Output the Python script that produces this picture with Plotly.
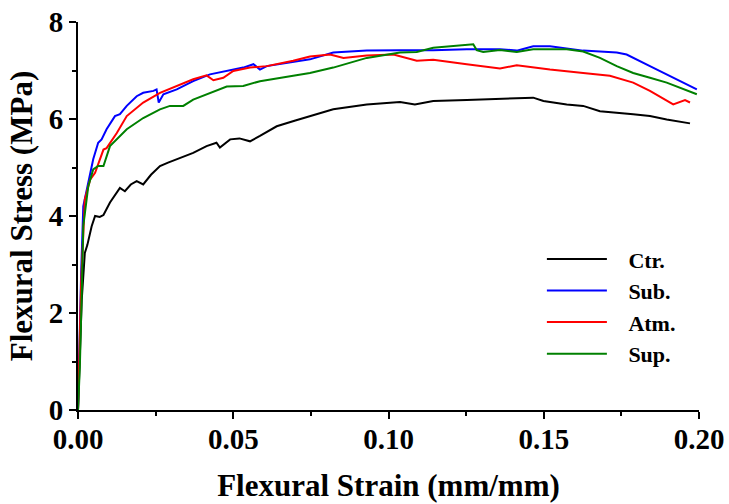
import plotly.graph_objects as go

# ---- data ----
ctr_strain = [0, 0.0006, 0.0012, 0.0022, 0.0030, 0.0044, 0.0055, 0.0070, 0.0082, 0.0103, 0.0120, 0.0135,
              0.0151, 0.0170, 0.0189, 0.0210, 0.0235, 0.0264, 0.0290, 0.0318, 0.0371, 0.0414, 0.0446, 0.0457,
              0.0490, 0.0520, 0.0554, 0.0586, 0.0640, 0.0700, 0.0747, 0.0822, 0.0930, 0.1037, 0.1085, 0.1144,
              0.1252, 0.1359, 0.1466, 0.1499, 0.1574, 0.1627, 0.1681, 0.1788, 0.1842, 0.1896, 0.1971]
ctr_stress = [0, 1.2, 2.27, 3.24, 3.4, 3.79, 4.0, 3.98, 4.02, 4.28, 4.45, 4.58,
              4.51, 4.65, 4.72, 4.65, 4.85, 5.03, 5.10, 5.17, 5.30, 5.44, 5.51, 5.41,
              5.58, 5.60, 5.54, 5.65, 5.85, 5.97, 6.06, 6.20, 6.30, 6.35, 6.30, 6.37,
              6.39, 6.42, 6.44, 6.37, 6.30, 6.27, 6.16, 6.10, 6.06, 5.99, 5.91]

sub_strain = [0, 0.0005, 0.0010, 0.0017, 0.0039, 0.0049, 0.0065, 0.0076, 0.0092, 0.0119, 0.0135, 0.0157,
              0.0189, 0.0210, 0.0243, 0.0253, 0.0260, 0.0275, 0.0318, 0.0371, 0.0425, 0.0479, 0.0532,
              0.0565, 0.0586, 0.0608, 0.0672, 0.0747, 0.0822, 0.0930, 0.1037, 0.1144, 0.1252, 0.1359,
              0.1413, 0.1466, 0.1520, 0.1574, 0.1627, 0.1735, 0.1767, 0.1842, 0.1896, 0.1993]
sub_stress = [0, 1.5, 2.8, 4.20, 4.89, 5.17, 5.51, 5.58, 5.79, 6.06, 6.10, 6.27,
              6.47, 6.54, 6.58, 6.61, 6.34, 6.51, 6.61, 6.78, 6.92, 6.99, 7.06,
              7.13, 7.02, 7.09, 7.16, 7.23, 7.37, 7.41, 7.42, 7.42, 7.44, 7.44,
              7.41, 7.50, 7.50, 7.45, 7.41, 7.37, 7.33, 7.09, 6.92, 6.61]

atm_strain = [0, 0.0005, 0.0010, 0.0022, 0.0039, 0.0055, 0.0082, 0.0092, 0.0103, 0.0125, 0.0157, 0.0210,
              0.0264, 0.0318, 0.0371, 0.0414, 0.0436, 0.0468, 0.0500, 0.0554, 0.0608, 0.0693, 0.0747,
              0.0812, 0.0855, 0.0930, 0.1016, 0.1091, 0.1144, 0.1252, 0.1359, 0.1413, 0.1520, 0.1627,
              0.1713, 0.1788, 0.1842, 0.1917, 0.1955, 0.1971]
atm_stress = [0, 1.4, 2.6, 4.34, 4.75, 4.89, 5.37, 5.40, 5.51, 5.71, 6.06, 6.34,
              6.54, 6.68, 6.82, 6.90, 6.80, 6.85, 6.99, 7.06, 7.09, 7.20, 7.29,
              7.33, 7.26, 7.31, 7.33, 7.20, 7.22, 7.13, 7.04, 7.11, 7.02, 6.95,
              6.89, 6.75, 6.58, 6.30, 6.39, 6.34]

sup_strain = [0, 0.0006, 0.0012, 0.0017, 0.0033, 0.0049, 0.0065, 0.0082, 0.0103, 0.0157, 0.0210, 0.0264,
              0.0296, 0.0339, 0.0371, 0.0425, 0.0479, 0.0532, 0.0586, 0.0693, 0.0747, 0.0822, 0.0930,
              0.1037, 0.1091, 0.1144, 0.1252, 0.1273, 0.1284, 0.1305, 0.1359, 0.1413, 0.1466, 0.1574,
              0.1627, 0.1681, 0.1735, 0.1788, 0.1842, 0.1896, 0.1993]
sup_stress = [0, 0.9, 2.4, 3.79, 4.61, 4.96, 5.03, 5.03, 5.44, 5.79, 6.02, 6.20,
              6.27, 6.27, 6.40, 6.54, 6.67, 6.68, 6.78, 6.89, 6.95, 7.06, 7.26,
              7.37, 7.38, 7.47, 7.54, 7.54, 7.42, 7.38, 7.42, 7.38, 7.44, 7.44,
              7.39, 7.26, 7.09, 6.95, 6.85, 6.75, 6.51]

series_names = ["Ctr.", "Sub.", "Atm.", "Sup."]
series_colors = ["#000000", "#0000ff", "#ff0000", "#008000"]
x_ticks = [0.00, 0.05, 0.10, 0.15, 0.20]
y_ticks = [0, 2, 4, 6, 8]

FONT = "Liberation Serif"
NBSP = "\u00a0"

fig = go.Figure()
for name, color, xs, ys in zip(series_names, series_colors,
                               [ctr_strain, sub_strain, atm_strain, sup_strain],
                               [ctr_stress, sub_stress, atm_stress, sup_stress]):
    fig.add_trace(go.Scatter(x=xs, y=ys, mode="lines", name=NBSP * 3 + name,
                             line=dict(color=color, width=2)))

axis_common = dict(showline=True, linecolor="black", linewidth=2, mirror=False,
                   ticks="outside", ticklen=7, tickwidth=2, tickcolor="black",
                   showgrid=False, zeroline=False, automargin=False,
                   tickfont=dict(family=FONT, size=29, color="black", weight="bold"))

fig.update_xaxes(range=[0, 0.2], tickvals=x_ticks, tickformat=".2f", ticklabelstandoff=-5,
                 minor=dict(dtick=0.025, ticks="outside", ticklen=4, tickwidth=2, tickcolor="black"),
                 title=dict(text="<b>Flexural Strain (mm/mm)</b>", standoff=21,
                            font=dict(family=FONT, size=31, color="black")),
                 **axis_common)
fig.update_yaxes(range=[0, 8], tickvals=y_ticks,
                 minor=dict(dtick=1, ticks="outside", ticklen=4, tickwidth=2, tickcolor="black"),
                 title=dict(text="<b>Flexural Stress (MPa)</b>", standoff=7,
                            font=dict(family=FONT, size=31, color="black")),
                 **axis_common)

fig.update_layout(
    width=729, height=504,
    margin=dict(l=78, r=30, t=22, b=94, autoexpand=False),
    plot_bgcolor="white", paper_bgcolor="white",
    legend=dict(x=0.747, y=0.443, xanchor="left", yanchor="top",
                bgcolor="rgba(0,0,0,0)", itemwidth=60,
                font=dict(family=FONT, size=22, color="black", weight="bold")),
)

fig.write_html("out.html", config={"displayModeBar": False},
               post_script="document.body.style.margin='0';")
